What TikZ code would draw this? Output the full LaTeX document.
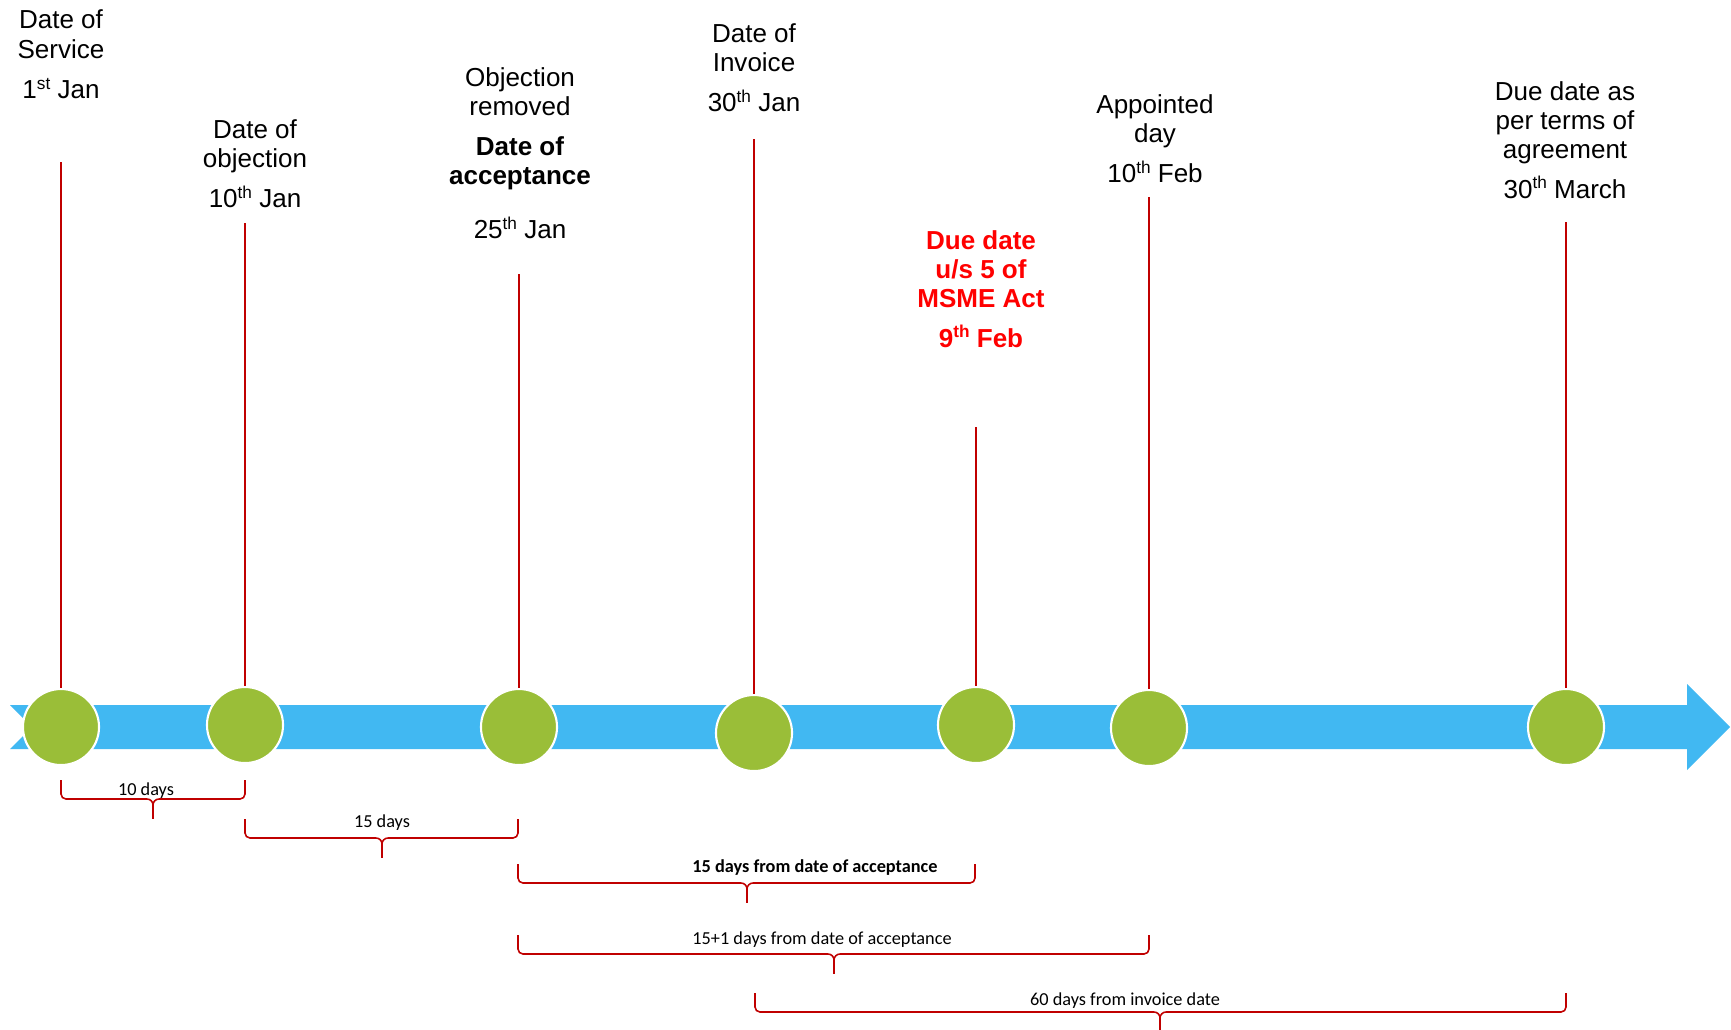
\documentclass[tikz,border=0pt]{standalone}
\usepackage{fontspec}
\setmainfont{Liberation Sans}
\newfontfamily\bracefont{Carlito}
\definecolor{bandblue}{RGB}{65,184,242}
\definecolor{dotgreen}{RGB}{154,190,56}
\definecolor{stemred}{RGB}{192,0,0}
\setlength{\lineskiplimit}{-20pt}
\newcommand{\ordsup}[1]{\raisebox{0.36em}{\fontsize{4.9}{5}\selectfont #1}}
\tikzset{
  event/.style={circle, fill=dotgreen, draw=white, line width=0.6pt, minimum size=0.76cm, inner sep=0pt},
  datelabel/.style={anchor=north, align=center, inner sep=0pt, font=\fontsize{7.4}{8.2}\selectfont},
  spanlabel/.style={anchor=base, inner sep=0pt, font=\bracefont\fontsize{5.2}{6}\selectfont},
  stem/.style={stemred, line width=0.55pt},
  bracket/.style={stemred, line width=0.45pt},
}

\begin{document}
\begin{tikzpicture}[x=0.01cm, y=-0.01cm]
  \useasboundingbox (0,0) rectangle (1731,1029);
  % timeline band
  \fill[bandblue] (10,705) -- (1687,705) -- (1687,684) -- (1730,727) -- (1687,770)
    -- (1687,749) -- (10,749) -- (32,727) -- cycle;
  % events on the band
  \foreach \n/\x/\y in {1/61/727, 2/245/725, 3/519/727, 4/754/733, 5/976/725, 6/1149/728, 7/1566/727}
    \node[event] (d\n) at (\x,\y) {};
  % stems up to the labels
  \foreach \n/\x/\y in {1/61/162, 2/245/223, 3/519/274, 4/754/139, 5/976/427, 6/1149/197, 7/1566/222} {
    \coordinate (t\n) at (\x,\y);
    \draw[stem] (d\n.north) -- (t\n);
  }
  \node[datelabel] (l1) at (61,9) {Date of\\[0.3pt]Service\\[3.2pt]1\ordsup{st} Jan};
  \node[datelabel] (l2) at (255,119) {Date of\\objection\\[3.2pt]10\ordsup{th} Jan};
  \node[datelabel] (l3) at (520,67) {Objection\\removed\\[3.2pt]\textbf{Date of}\\\textbf{acceptance}\\[7.2pt]25\ordsup{th} Jan};
  \node[datelabel] (l4) at (754,23) {Date of\\Invoice\\[3.2pt]30\ordsup{th} Jan};
  \node[datelabel, text=red, font=\fontsize{7.4}{8.2}\selectfont\bfseries] (l5) at (981,230) {Due date\\u/s 5 of\\MSME Act\\[3.2pt]9\ordsup{th} Feb};
  \node[datelabel] (l6) at (1155,94) {Appointed\\day\\[3.2pt]10\ordsup{th} Feb};
  \node[datelabel] (l7) at (1565,81) {Due date as\\per terms of\\agreement\\[3.2pt]30\ordsup{th} March};
  % spans below the band
  \foreach \a/\b/\t/\h in {61/245/153/799, 245/518/382/838, 518/975/747/883, 518/1149/834/954, 755/1566/1160/1012} {
    \draw[bracket] (\a,\h-19) -- (\a,\h-5) to[out=-90,in=180] (\a+5,\h) -- (\t-6,\h) to[out=0,in=90] (\t,\h+6);
    \draw[bracket] (\t,\h+6) to[out=90,in=180] (\t+6,\h) -- (\b-5,\h) to[out=0,in=-90] (\b,\h-5) -- (\b,\h-19);
    \draw[bracket, line width=0.8pt] (\t,\h+4) -- (\t,\h+20);
  }
  \node[spanlabel] (s1) at (146,795) {10 days};
  \node[spanlabel] (s2) at (382,827) {15 days};
  \node[spanlabel, font=\bracefont\bfseries\fontsize{5.2}{6}\selectfont] (s3) at (815,872) {15 days from date of acceptance};
  \node[spanlabel] (s4) at (822,944) {15+1 days from date of acceptance};
  \node[spanlabel] (s5) at (1125,1005) {60 days from invoice date};
\end{tikzpicture}
\end{document}
